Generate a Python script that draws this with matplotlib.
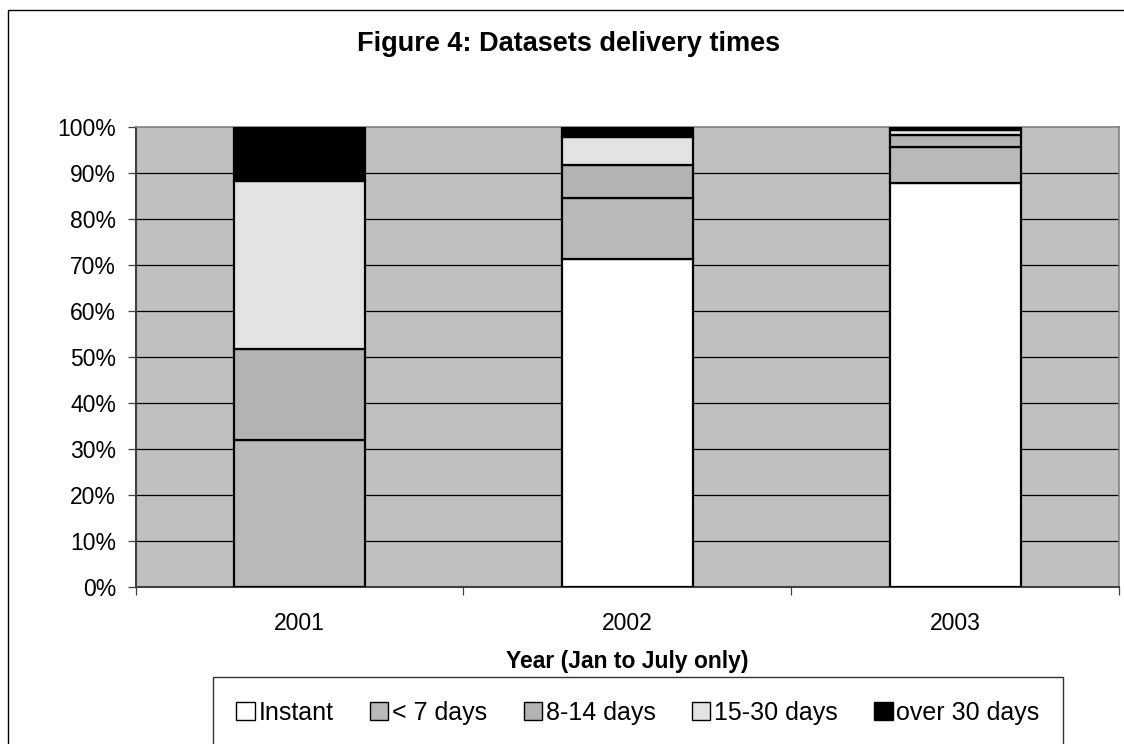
import numpy as np
import matplotlib.pyplot as plt
from matplotlib.patches import Patch, Rectangle
from matplotlib.ticker import PercentFormatter, FixedLocator

plt.rcParams["font.family"] = ["Liberation Sans", "DejaVu Sans"]

years = ["2001", "2002", "2003"]
categories = ["Instant", "< 7 days", "8-14 days", "15-30 days", "over 30 days"]

# shares per year (fractions)
instant = [0.0, 0.713, 0.878]
under_7 = [0.318, 0.132, 0.078]
days_8_14 = [0.199, 0.071, 0.026]
days_15_30 = [0.364, 0.061, 0.011]
over_30 = [0.119, 0.023, 0.007]

series = [instant, under_7, days_8_14, days_15_30, over_30]
colors = ["#FFFFFF", "#B9B9B9", "#B3B3B3", "#E3E3E3", "#000000"]

W, H = 1124, 744
fig = plt.figure(figsize=(W / 100, H / 100), dpi=100)
ax = fig.add_axes([135.6 / W, 1 - 586.7 / H, (1119 - 135.6) / W, (586.7 - 126.7) / H])
ax.set_facecolor("#C0C0C0")

x = np.arange(len(years))
bottom = np.zeros(len(years))
for vals, col in zip(series, colors):
    vals = np.array(vals)
    ax.bar(x, vals, 0.4, bottom=bottom, color=col, edgecolor="black",
           linewidth=1.6, zorder=3)
    bottom += vals

ax.set_xlim(-0.5, len(years) - 0.5)
ax.set_ylim(0, 1)

ax.yaxis.set_major_locator(FixedLocator(np.linspace(0, 1, 11)))
ax.yaxis.set_major_formatter(PercentFormatter(1.0, decimals=0))
ax.set_xticks(x)
ax.set_xticklabels(years)
ax.xaxis.set_minor_locator(FixedLocator(np.arange(-0.5, len(years), 1.0)))
ax.tick_params(axis="x", which="major", length=0, pad=18, labelsize=16.5)
ax.tick_params(axis="x", which="minor", length=6, width=0.9, color="#404040",
               direction="out")
ax.tick_params(axis="y", length=6, width=0.9, color="#404040", pad=8,
               labelsize=16.5)

for y in np.arange(0.1, 1.0, 0.1):
    ax.axhline(y, color="black", linewidth=0.9, zorder=1)

for s in ["top", "right"]:
    ax.spines[s].set_color("#808080")
    ax.spines[s].set_linewidth(1.2)
for s in ["left", "bottom"]:
    ax.spines[s].set_color("#404040")
    ax.spines[s].set_linewidth(1.5)

fig.text(569 / W, 1 - 51 / H, "Figure 4: Datasets delivery times",
         ha="center", va="baseline", fontsize=19.5, fontweight="bold")
fig.text(627 / W, 1 - 668 / H, "Year (Jan to July only)",
         ha="center", va="baseline", fontsize=16.5, fontweight="bold")

handles = [Patch(facecolor=c, edgecolor="black", linewidth=1.0) for c in colors]
leg = fig.legend(handles, categories, loc="upper center", ncol=5,
                 bbox_to_anchor=(638 / W, 1 - 677 / H), fontsize=18,
                 frameon=True, fancybox=False, edgecolor="black",
                 handlelength=0.74, handleheight=0.74, handletextpad=0.15,
                 columnspacing=1.45, borderpad=0.95, borderaxespad=0)
leg.get_frame().set_linewidth(1.0)

fig.patches.append(Rectangle((8 / W, -0.05), 1.1, 1 - 10 / H + 0.05,
                             transform=fig.transFigure, fill=False,
                             edgecolor="black", linewidth=1.0))

fig.savefig("out.png", dpi=100)
